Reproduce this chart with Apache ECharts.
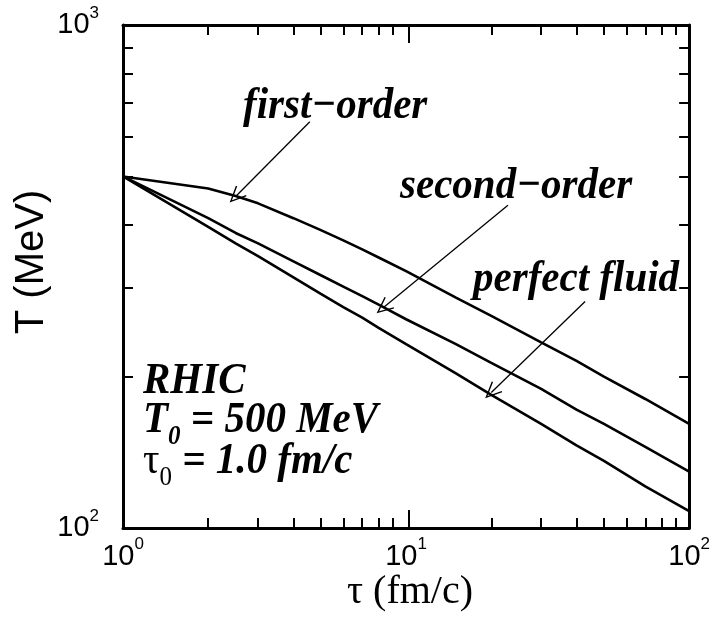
<!DOCTYPE html>
<html>
<head>
<meta charset="utf-8">
<script src="https://cdn.jsdelivr.net/npm/echarts@6/dist/echarts.min.js"></script>
<style>
  html, body { margin: 0; padding: 0; background: #fff; }
  #chart { width: 713px; height: 618px; }
</style>
</head>
<body>
<div id="chart"></div>
<script>
// tau (fm/c) sample points and temperatures (MeV)
const tau = [1, 2, 2.5, 3, 4, 5, 6, 7, 8, 10, 15, 20, 30, 40, 50, 70, 100];
const firstOrder = [500, 473, 457, 442, 413, 391, 373, 358, 345, 324, 287, 264, 234, 215, 200, 180.5, 161];
const secondOrder = [500, 413, 386, 368, 339, 318, 302, 289, 278, 260, 232, 213, 189, 172, 161, 145, 129.5];
const perfectFluid = [500, 397, 368, 347, 315, 292, 275, 262, 250, 232, 203, 184, 161, 146, 136, 121, 108];

// arrows: [from, to] in data coords (tau, T)
const arrowFirst = [[4.57, 642], [2.5, 456]];
const arrowSecond = [[22.9, 438], [8.3, 274]];
const arrowPerfect = [[42.9, 282], [20, 186]];

const xMinorTicks = [2, 3, 4, 5, 6, 7, 8, 9, 20, 30, 40, 50, 60, 70, 80, 90];
const xMajorTicks = [10];
const xLabels = [1, 10, 100];
const yMinorTicks = [200, 300, 400, 500, 600, 700, 800, 900];
const yLabels = [100, 1000];

const chart = echarts.init(document.getElementById('chart'));

const gridBox = { left: 123, right: 18, top: 25, bottom: 90 };
const sans = 'Liberation Sans, Arial, sans-serif';
const serif = 'Liberation Serif, Times New Roman, serif';
const bi = 'italic bold 41px ' + serif;

const powLabel = {
  fontSize: 28,
  fontFamily: sans,
  color: '#000',
  formatter: (v) => '{b|10}{s|' + Math.round(Math.log10(v)) + '}',
  rich: {
    b: { fontSize: 29, fontFamily: sans, color: '#000' },
    s: { fontSize: 17, fontFamily: sans, color: '#000', padding: [0, 0, 24, 0] }
  }
};

function pair(p) {
  return [{ coord: p[0] }, { coord: p[1] }];
}

// open "V" arrow head
const arrowHead = 'path://M0,16 L7,0 L14,16 L12.8,16.6 L7,3.2 L1.2,16.6 Z';

const lineSeries = (name, data, extra) => Object.assign({
  name: name,
  type: 'line',
  data: tau.map((t, i) => [t, data[i]]),
  showSymbol: false,
  symbol: 'none',
  lineStyle: { color: '#000', width: 2.6 },
  silent: true,
  animation: false
}, extra || {});

function note(x, y, text, rich) {
  return {
    type: 'text', x: x, y: y, scaleY: 1.1,
    style: rich
      ? { text: text, verticalAlign: 'middle', rich: rich }
      : { text: text, font: bi, fill: '#000', verticalAlign: 'middle' }
  };
}

const option = {
  backgroundColor: '#fff',
  animation: false,
  grid: [
    Object.assign({}, gridBox),
    Object.assign({}, gridBox)
  ],
  xAxis: [
    {
      type: 'log', gridIndex: 0, min: 1, max: 100, position: 'bottom',
      axisLine: { lineStyle: { color: '#000', width: 3 } },
      axisTick: { inside: true, length: 10, customValues: xMinorTicks, lineStyle: { color: '#000', width: 2 } },
      axisLabel: Object.assign({ customValues: xLabels, margin: 8 }, powLabel),
      splitLine: { show: false }
    },
    {
      type: 'log', gridIndex: 0, min: 1, max: 100, position: 'top',
      axisLine: { lineStyle: { color: '#000', width: 3 } },
      axisTick: { inside: true, length: 10, customValues: xMinorTicks, lineStyle: { color: '#000', width: 2 } },
      axisLabel: { show: false },
      splitLine: { show: false }
    },
    {
      type: 'log', gridIndex: 1, min: 1, max: 100, position: 'bottom',
      axisLine: { show: false },
      axisTick: { inside: true, length: 18, customValues: xMajorTicks, lineStyle: { color: '#000', width: 2 } },
      axisLabel: { show: false },
      splitLine: { show: false }
    },
    {
      type: 'log', gridIndex: 1, min: 1, max: 100, position: 'top',
      axisLine: { show: false },
      axisTick: { inside: true, length: 18, customValues: xMajorTicks, lineStyle: { color: '#000', width: 2 } },
      axisLabel: { show: false },
      splitLine: { show: false }
    }
  ],
  yAxis: [
    {
      type: 'log', gridIndex: 0, min: 100, max: 1000, position: 'left',
      axisLine: { lineStyle: { color: '#000', width: 3 } },
      axisTick: { inside: true, length: 10, customValues: yMinorTicks, lineStyle: { color: '#000', width: 2 } },
      axisLabel: Object.assign({ customValues: yLabels, margin: 24 }, powLabel),
      splitLine: { show: false }
    },
    {
      type: 'log', gridIndex: 0, min: 100, max: 1000, position: 'right',
      axisLine: { lineStyle: { color: '#000', width: 3 } },
      axisTick: { inside: true, length: 10, customValues: yMinorTicks, lineStyle: { color: '#000', width: 2 } },
      axisLabel: { show: false },
      splitLine: { show: false }
    },
    {
      type: 'log', gridIndex: 1, min: 100, max: 1000, position: 'left',
      axisLine: { show: false }, axisTick: { show: false }, axisLabel: { show: false },
      splitLine: { show: false }
    },
    {
      type: 'log', gridIndex: 1, min: 100, max: 1000, position: 'right',
      axisLine: { show: false }, axisTick: { show: false }, axisLabel: { show: false },
      splitLine: { show: false }
    }
  ],
  series: [
    lineSeries('first-order', firstOrder, {
      markLine: {
        silent: true,
        animation: false,
        symbol: ['none', arrowHead],
        symbolSize: [15, 17],
        lineStyle: { color: '#000', width: 1.3, type: 'solid' },
        label: { show: false },
        emphasis: { disabled: true },
        data: [pair(arrowFirst), pair(arrowSecond), pair(arrowPerfect)]
      }
    }),
    lineSeries('second-order', secondOrder),
    lineSeries('perfect fluid', perfectFluid)
  ],
  graphic: [
    {
      type: 'text', x: 410, y: 592,
      style: { text: 'τ (fm/c)', font: '40px ' + serif, fill: '#000', align: 'center', verticalAlign: 'middle' }
    },
    {
      type: 'text', x: 32, y: 262, rotation: Math.PI / 2,
      style: { text: 'T (MeV)', font: '40px ' + sans, fill: '#000', align: 'center', verticalAlign: 'middle' }
    },
    note(243, 106, 'first−order'),
    note(400, 186, 'second−order'),
    note(473, 279, 'perfect fluid'),
    note(143, 381, 'RHIC'),
    note(143, 420, '{a|T}{sub|0}{a| = 500 MeV}', {
      a: { font: bi, fill: '#000' },
      sub: { font: 'italic bold 25px ' + serif, fill: '#000', padding: [30, 0, 0, 0] }
    }),
    note(143, 461, '{t|τ}{sub|0}{a| = 1.0 fm/c}', {
      t: { font: '41px ' + serif, fill: '#000' },
      a: { font: bi, fill: '#000' },
      sub: { font: '25px ' + serif, fill: '#000', padding: [30, 0, 0, 0] }
    })
  ]
};

chart.setOption(option);
</script>
</body>
</html>
